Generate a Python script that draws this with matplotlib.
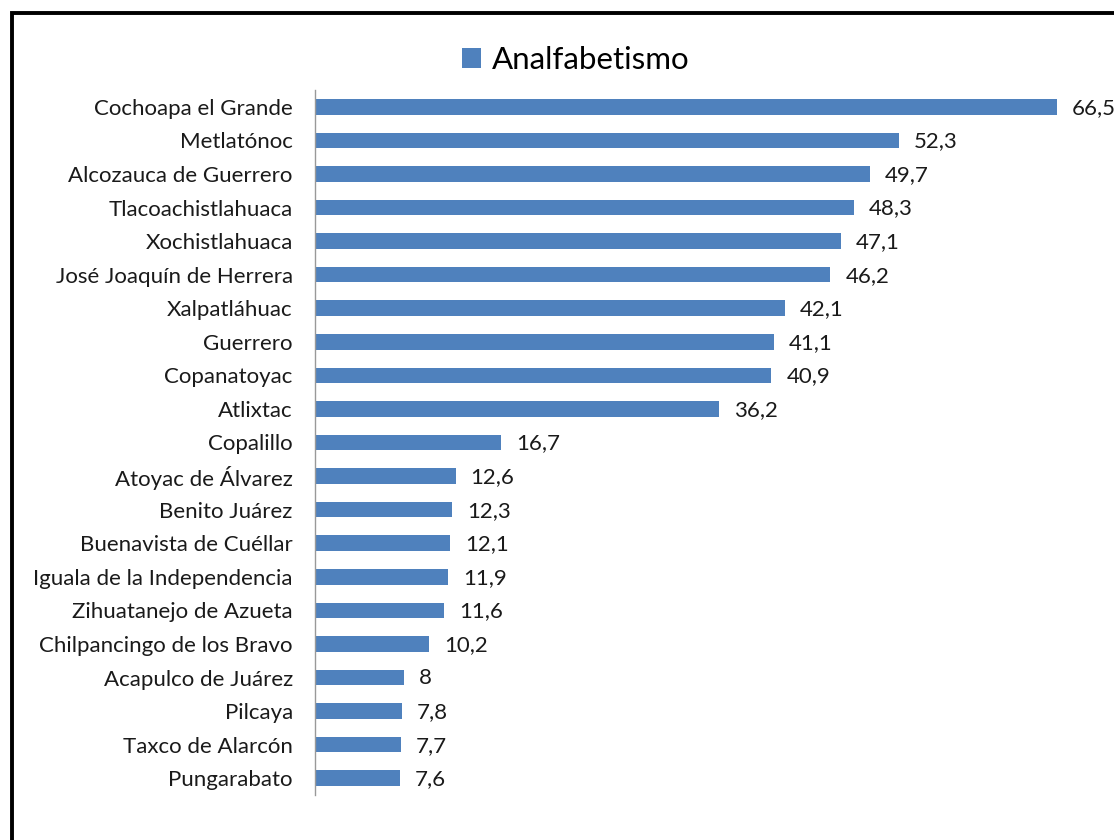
import matplotlib
matplotlib.use("Agg")
import matplotlib.pyplot as plt
from matplotlib.patches import Rectangle

plt.rcParams['font.family'] = ['Lato', 'DejaVu Sans']

municipios = [
    "Cochoapa el Grande", "Metlatónoc", "Alcozauca de Guerrero",
    "Tlacoachistlahuaca", "Xochistlahuaca", "José Joaquín de Herrera",
    "Xalpatláhuac", "Guerrero", "Copanatoyac", "Atlixtac", "Copalillo",
    "Atoyac de Álvarez", "Benito Juárez", "Buenavista de Cuéllar",
    "Iguala de la Independencia", "Zihuatanejo de Azueta",
    "Chilpancingo de los Bravo", "Acapulco de Juárez", "Pilcaya",
    "Taxco de Alarcón", "Pungarabato",
]
analfabetismo = [66.5, 52.3, 49.7, 48.3, 47.1, 46.2, 42.1, 41.1, 40.9, 36.2,
                 16.7, 12.6, 12.3, 12.1, 11.9, 11.6, 10.2, 8, 7.8, 7.7, 7.6]

W, H = 1114, 840
fig = plt.figure(figsize=(W / 100, H / 100), dpi=100)

# axes placed in pixel terms: left edge at 315, rows from y=90 to y=795
x0, x1 = 315, 1096
y_top, y_bot = 90, 795
ax = fig.add_axes([x0 / W, 1 - y_bot / H, (x1 - x0) / W, (y_bot - y_top) / H])

color = '#4F81BD'
pos = list(range(len(municipios)))
bars = ax.barh(pos, analfabetismo, height=0.46, color=color, label='Analfabetismo')
ax.set_ylim(len(municipios) - 0.5, -0.5)
ax.set_xlim(0, 70)

ax.set_yticks(pos)
ax.set_yticklabels(municipios, fontsize=16, color='#1a1a1a')
ax.tick_params(axis='y', length=0, pad=16)
ax.set_xticks([])
for s in ['top', 'right', 'bottom']:
    ax.spines[s].set_visible(False)
ax.spines['left'].set_color('#999999')
ax.spines['left'].set_linewidth(1)

for b, v in zip(bars, analfabetismo):
    txt = f"{v:g}".replace('.', ',')
    ax.annotate(txt, xy=(b.get_width(), b.get_y() + b.get_height() / 2),
                xytext=(15, -1), textcoords='offset pixels',
                va='center', ha='left', fontsize=16, color='#1a1a1a')

fig.legend(handles=[bars], labels=['Analfabetismo'], loc='center',
           bbox_to_anchor=(576 / W, 1 - 60 / H), frameon=False, fontsize=22.5,
           handlelength=0.6, handleheight=0.6, handletextpad=0.35)

# black frame visible on the left and top only
fig.patches.append(Rectangle((11.5 / W, -0.5), 2, 1.5 - 12.5 / H,
                             transform=fig.transFigure, fill=False,
                             edgecolor='black', linewidth=2.8))

fig.savefig('out.png', dpi=100)
